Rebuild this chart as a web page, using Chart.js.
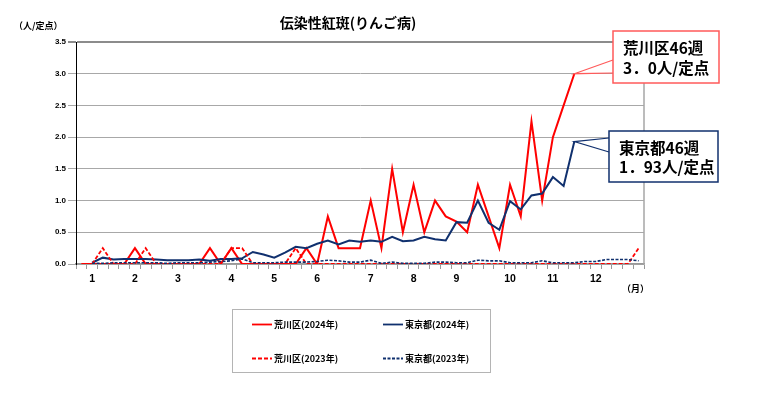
<!DOCTYPE html>
<html>
<head>
<meta charset="utf-8">
<script src="https://cdn.jsdelivr.net/npm/chart.js@4/dist/chart.umd.min.js"></script>
<style>
  body { margin: 0; background: #fff; }
  canvas { display: block; }
</style>
</head>
<body>
<canvas id="chart" width="761" height="397"></canvas>
<script>
// week index 0..52 (index 0 is the slot before week 1)
const weeks = [0, 1, 2, 3, 4, 5, 6, 7, 8, 9, 10, 11, 12, 13, 14, 15, 16, 17, 18, 19, 20,
  21, 22, 23, 24, 25, 26, 27, 28, 29, 30, 31, 32, 33, 34, 35, 36, 37, 38, 39, 40,
  41, 42, 43, 44, 45, 46, 47, 48, 49, 50, 51, 52];

// month label shown at the first week of each month
const monthWeeks = [1, 5, 9, 14, 18, 22, 27, 31, 35, 40, 44, 48];
const monthNames = ['1', '2', '3', '4', '5', '6', '7', '8', '9', '10', '11', '12'];

const yTicks = [0, 0.5, 1.0, 1.5, 2.0, 2.5, 3.0, 3.5];

// 荒川区 2024
const arakawa2024 = [0,
  0, 0, 0, 0, 0.25, 0, 0, 0, 0, 0,
  0, 0.25, 0, 0.25, 0, 0, 0, 0, 0, 0,
  0.25, 0, 0.75, 0.25, 0.25, 0.25, 1.0, 0.25, 1.5, 0.5,
  1.25, 0.5, 1.0, 0.75, 0.67, 0.5, 1.25, 0.75, 0.25, 1.25,
  0.75, 2.25, 1.0, 2.0, 2.5, 3.0,
  null, null, null, null, null, null];

// 東京都 2024
const tokyo2024 = [null,
  0.02, 0.10, 0.07, 0.08, 0.08, 0.08, 0.07, 0.06, 0.06, 0.06,
  0.07, 0.05, 0.08, 0.08, 0.09, 0.19, 0.15, 0.10, 0.18, 0.27,
  0.25, 0.32, 0.37, 0.31, 0.37, 0.35, 0.37, 0.35, 0.43, 0.36,
  0.37, 0.43, 0.39, 0.37, 0.66, 0.65, 1.00, 0.65, 0.54, 0.99,
  0.86, 1.08, 1.11, 1.37, 1.23, 1.93,
  null, null, null, null, null, null];

// 荒川区 2023
const arakawa2023 = [null,
  0, 0.25, 0, 0, 0, 0.25, 0, 0, 0, 0,
  0, 0, 0, 0.25, 0.25, 0, 0, 0, 0, 0.25,
  0, 0, 0, 0, 0, 0, 0, 0, 0, 0,
  0, 0, 0, 0, 0, 0, 0, 0, 0, 0,
  0, 0, 0, 0, 0, 0, 0, 0, 0, 0,
  0, 0.25];

// 東京都 2023
const tokyo2023 = [null,
  0.01, 0.01, 0.02, 0.02, 0.02, 0.02, 0.02, 0.01, 0.02, 0.02,
  0.02, 0.03, 0.04, 0.05, 0.08, 0.02, 0.02, 0.02, 0.03, 0.03,
  0.03, 0.04, 0.06, 0.05, 0.03, 0.03, 0.06, 0.01, 0.03, 0.01,
  0.01, 0.01, 0.03, 0.03, 0.02, 0.02, 0.06, 0.05, 0.05, 0.02,
  0.02, 0.02, 0.05, 0.02, 0.02, 0.02, 0.04, 0.04, 0.07, 0.07,
  0.07, 0.05];

const RED = '#ff0000';
const NAVY = '#10306e';
const JP = '"Noto Sans CJK JP", sans-serif';

const legendItems = [
  { text: '荒川区(2024年)', color: RED, dash: [] },
  { text: '東京都(2024年)', color: NAVY, dash: [] },
  { text: '荒川区(2023年)', color: RED, dash: [4, 2] },
  { text: '東京都(2023年)', color: NAVY, dash: [3, 1.5] }
];

const callouts = [
  { week: 46, value: arakawa2024[46], lines: ['荒川区46週', '3．0人/定点'], color: '#ff5a5a',
    box: [613, 31, 106, 52], wedge: [60, 73], textY: [48, 68] },
  { week: 46, value: tokyo2024[46], lines: ['東京都46週', '1．93人/定点'], color: NAVY,
    box: [609, 131, 109, 51], wedge: [138, 152], textY: [148.5, 167] }
];

const overlay = {
  id: 'overlay',
  afterDraw(chart) {
    const ctx = chart.ctx;
    const a = chart.chartArea;
    const x = chart.scales.x, y = chart.scales.y;
    ctx.save();

    // right frame line
    ctx.strokeStyle = '#a6a6a6';
    ctx.lineWidth = 1.5;
    ctx.beginPath();
    ctx.moveTo(a.right, a.top);
    ctx.lineTo(a.right, a.bottom);
    ctx.stroke();

    // title & unit labels
    ctx.fillStyle = '#000';
    ctx.textBaseline = 'middle';
    ctx.textAlign = 'center';
    ctx.font = 'bold 14px ' + JP;
    ctx.fillText('伝染性紅斑(りんご病)', 348, 23);
    ctx.textAlign = 'left';
    ctx.font = 'bold 9px ' + JP;
    ctx.fillText('（人/定点）', 14, 26);
    ctx.fillText('（月）', 622, 289);

    // callouts
    callouts.forEach(c => {
      const px = x.getPixelForValue(c.week);
      const py = y.getPixelForValue(c.value);
      const [bx, by, bw, bh] = c.box;
      ctx.strokeStyle = c.color;
      ctx.lineWidth = 1.2;
      ctx.beginPath();
      ctx.moveTo(bx, c.wedge[0]);
      ctx.lineTo(px, py);
      ctx.lineTo(bx, c.wedge[1]);
      ctx.stroke();
      ctx.fillStyle = '#fff';
      ctx.fillRect(bx, by, bw, bh);
      ctx.lineWidth = 1.5;
      ctx.strokeRect(bx, by, bw, bh);
      ctx.fillStyle = '#000';
      ctx.font = 'bold 15.5px ' + JP;
      ctx.textAlign = 'left';
      ctx.fillText(c.lines[0], bx + 10, c.textY[0]);
      ctx.fillText(c.lines[1], bx + 10, c.textY[1]);
    });

    // legend box
    ctx.strokeStyle = '#b4b4b4';
    ctx.lineWidth = 1;
    ctx.strokeRect(232.5, 309.5, 258, 63);
    const cols = [252, 383], rows = [324.5, 358.5];
    legendItems.forEach((it, i) => {
      const lx = cols[i % 2], ly = rows[Math.floor(i / 2)];
      ctx.strokeStyle = it.color;
      ctx.lineWidth = 1.8;
      ctx.setLineDash(it.dash);
      ctx.beginPath();
      ctx.moveTo(lx, ly);
      ctx.lineTo(lx + 20, ly);
      ctx.stroke();
      ctx.setLineDash([]);
      ctx.fillStyle = '#000';
      ctx.font = 'bold 9px ' + JP;
      ctx.fillText(it.text, lx + 22, ly);
    });
    ctx.restore();
  }
};

new Chart(document.getElementById('chart'), {
  type: 'line',
  data: {
    labels: weeks,
    datasets: [
      { label: legendItems[3].text, data: tokyo2023, borderColor: NAVY, borderWidth: 1.6, borderDash: [3, 1.5] },
      { label: legendItems[2].text, data: arakawa2023, borderColor: RED, borderWidth: 1.8, borderDash: [4, 2] },
      { label: legendItems[1].text, data: tokyo2024, borderColor: NAVY, borderWidth: 2 },
      { label: legendItems[0].text, data: arakawa2024, borderColor: RED, borderWidth: 2 }
    ]
  },
  options: {
    responsive: false,
    animation: false,
    layout: { padding: { left: 0, right: 117, top: 42, bottom: 103 } },
    elements: { point: { radius: 0 }, line: { tension: 0, fill: false } },
    plugins: { legend: { display: false }, tooltip: { enabled: false } },
    scales: {
      x: {
        offset: true,
        afterFit: s => { s.height = 30; },
        grid: { offset: true, drawOnChartArea: false, tickLength: 5, color: '#999' },
        border: { color: '#999', width: 1.5 },
        ticks: {
          autoSkip: false, maxRotation: 0, padding: 4, color: '#000',
          font: { family: '"Liberation Sans", Arial', size: 10.5, weight: 'bold' },
          callback: (v, i) => {
            const k = monthWeeks.indexOf(weeks[i]);
            return k >= 0 ? monthNames[k] : '';
          }
        }
      },
      y: {
        min: 0, max: 3.5,
        afterFit: s => { s.width = 76; },
        afterBuildTicks: s => { s.ticks = yTicks.map(v => ({ value: v })); },
        grid: {
          color: c => c.tick && c.tick.value === 3.5 ? '#8c8c8c' : '#a8a8a8',
          lineWidth: c => c.tick && c.tick.value === 3.5 ? 2 : 1,
          tickLength: 8
        },
        border: { color: '#000', width: 1 },
        ticks: {
          padding: 2, color: '#000',
          font: { family: '"Liberation Sans", Arial', size: 8, weight: 'bold' },
          callback: v => v.toFixed(1)
        }
      }
    }
  },
  plugins: [overlay]
});
</script>
</body>
</html>
